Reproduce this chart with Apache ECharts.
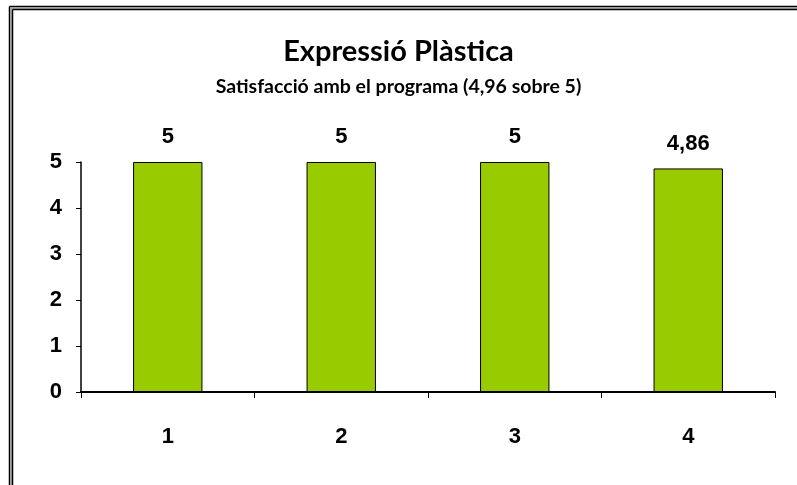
<!DOCTYPE html>
<html><head><meta charset="utf-8">
<script src="https://cdn.jsdelivr.net/npm/echarts@6/dist/echarts.min.js"></script>
<style>html,body{margin:0;padding:0;background:#fff}#c{width:797px;height:485px}</style>
</head><body><div id="c"></div>
<script>
var categories = ['1', '2', '3', '4'];
var values = [5, 5, 5, 4.86];
var yTicks = [0, 1, 2, 3, 4, 5];
var titleText = 'Expressió Plàstica';
var subtitleText = 'Satisfacció amb el programa (4,96 sobre 5)';

var chart = echarts.init(document.getElementById('c'), null, {renderer: 'canvas'});
chart.setOption({
  animation: false,
  backgroundColor: '#fff',
  title: {
    text: titleText,
    subtext: subtitleText,
    left: 'center',
    top: 32,
    itemGap: 11,
    textStyle: {fontFamily: 'Lato', fontWeight: 'bold', fontSize: 29, color: '#000'},
    subtextStyle: {fontFamily: 'Lato', fontWeight: 'bold', fontSize: 19.5, color: '#000'}
  },
  graphic: [
    {type: 'line', shape: {x1: 9.5, y1: 6.5, x2: 797, y2: 6.5}, style: {stroke: '#000', lineWidth: 1.5}},
    {type: 'line', shape: {x1: 11, y1: 8, x2: 797, y2: 8}, style: {stroke: '#999', lineWidth: 1.5}},
    {type: 'line', shape: {x1: 12.5, y1: 9.5, x2: 797, y2: 9.5}, style: {stroke: '#000', lineWidth: 1.5}},
    {type: 'line', shape: {x1: 9.5, y1: 6.5, x2: 9.5, y2: 485}, style: {stroke: '#000', lineWidth: 1.5}},
    {type: 'line', shape: {x1: 11, y1: 8, x2: 11, y2: 485}, style: {stroke: '#999', lineWidth: 1.5}},
    {type: 'line', shape: {x1: 12.5, y1: 9.5, x2: 12.5, y2: 485}, style: {stroke: '#000', lineWidth: 1.5}}
  ],
  grid: {left: 81, right: 22, top: 162, bottom: 93, containLabel: false},
  xAxis: {
    type: 'category',
    data: categories,
    axisLine: {lineStyle: {color: '#000', width: 2}},
    axisTick: {show: true, length: 6, lineStyle: {color: '#000', width: 1}},
    axisLabel: {fontFamily: 'Liberation Sans', fontWeight: 'bold', fontSize: 22, color: '#000', margin: 34}
  },
  yAxis: {
    type: 'value',
    min: yTicks[0],
    max: yTicks[yTicks.length - 1],
    interval: 1,
    splitLine: {show: false},
    axisLine: {show: true, lineStyle: {color: '#000', width: 1.5}},
    axisTick: {show: true, length: 5, lineStyle: {color: '#000', width: 1}},
    axisLabel: {fontFamily: 'Liberation Sans', fontWeight: 'bold', fontSize: 22, color: '#000', margin: 19,
      formatter: function (v) { return String(v).replace('.', ','); }}
  },
  series: [{
    type: 'bar',
    data: values,
    barWidth: '40%',
    itemStyle: {color: '#99CC00', borderColor: '#000', borderWidth: 1},
    label: {
      show: true, position: 'top', distance: 14,
      fontFamily: 'Liberation Sans', fontWeight: 'bold', fontSize: 22, color: '#000',
      formatter: function (p) { return String(p.value).replace('.', ','); }
    }
  }]
});
</script></body></html>
